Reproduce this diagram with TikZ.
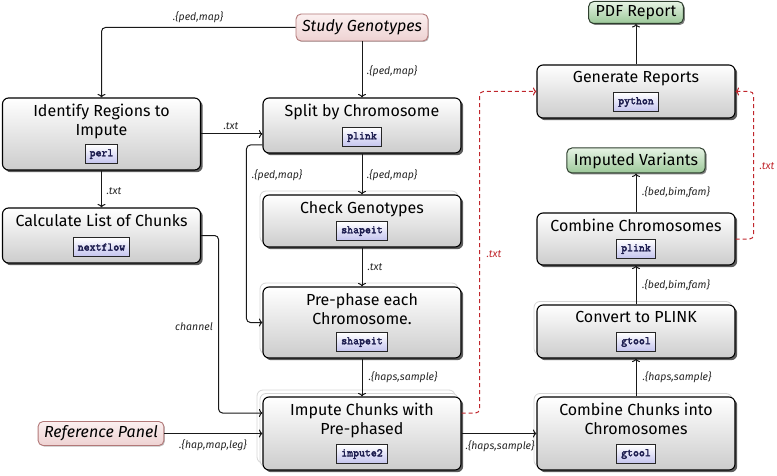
\documentclass[tikz,border=0pt]{standalone}
\usepackage{fontspec}
\setmainfont{Fira Sans}
\newfontfamily\toolfont{Latin Modern Mono}[FakeBold=3]
\usetikzlibrary{shadows,arrows.meta,calc}
\definecolor{toolbot}{HTML}{C4C4EE}
\definecolor{tooltext}{HTML}{1E1E50}
\definecolor{pinktop}{HTML}{FBF0F0}
\definecolor{pinkbot}{HTML}{EED2D2}
\definecolor{pinkline}{HTML}{B27878}
\definecolor{greentop}{HTML}{E6F3E4}
\definecolor{greenbot}{HTML}{9CC899}
\definecolor{greenline}{HTML}{2E3F2E}
\definecolor{procbot}{HTML}{CCCCCC}
\definecolor{dashred}{HTML}{C0262C}
\tikzset{
  proc/.style={draw=black, line width=1.1pt, rounded corners=6pt, top color=white, bottom color=procbot,
    drop shadow={shadow xshift=2.2pt, shadow yshift=-2.2pt, opacity=0.75, fill=black!85},
    minimum width=198pt, inner sep=0pt},
  ghost/.style={draw=black!16, line width=0.8pt, rounded corners=6pt, fill=white, minimum width=198pt, inner sep=0pt},
  tool/.style={draw=black!85, line width=0.9pt, top color=white, bottom color=toolbot,
    font=\toolfont\fontsize{11.5}{11.5}\selectfont, text=tooltext, inner xsep=4.5pt, inner ysep=0pt, minimum height=18.5pt},
  ptitle/.style={font=\fontsize{16}{19}\selectfont, align=center, inner sep=0pt},
  lbl/.style={font=\itshape\fontsize{10.5}{12}\selectfont, text=black!85, inner sep=0pt},
  rlbl/.style={lbl, text=dashred},
  iofile/.style={draw=pinkline, line width=0.9pt, rounded corners=5pt, top color=pinktop, bottom color=pinkbot,
    drop shadow={shadow xshift=1pt, shadow yshift=-1pt, opacity=0.25, fill=black},
    font=\itshape\fontsize{16}{19}\selectfont, inner xsep=6pt, inner ysep=0pt},
  ioresult/.style={draw=greenline, line width=1pt, rounded corners=5pt, top color=greentop, bottom color=greenbot,
    drop shadow={shadow xshift=1.5pt, shadow yshift=-1.5pt, opacity=0.5, fill=black},
    font=\fontsize{16}{19}\selectfont, inner xsep=7pt, inner ysep=0pt},
  conn/.style={draw=black!90, line width=1pt, -{To[length=3.5pt,width=8pt]}, rounded corners=4pt},
  rconn/.style={draw=dashred, line width=1pt, dash pattern=on 4pt off 3pt, -{To[length=3.5pt,width=8pt]}, rounded corners=4pt},
}
% name, x, y, height, title, tool
\newcommand\procbox[6]{%
  \node[proc, minimum height=#4pt] (#1) at (#2,#3) {};
  \node[ptitle, anchor=north] (#1-t) at ([yshift=-6.5pt]#1.north) {#5};
  \node[tool] (#1-tool) at ([yshift=16.5pt]#1.south) {#6};
}
% name, x, y, height
\newcommand\ghostbox[4]{%
  \node[ghost, minimum height=#4pt] (#1) at (#2,#3) {};
}
\begin{document}
\begin{tikzpicture}[x=1pt,y=-1pt]
\useasboundingbox (0,0) rectangle (777,476);

% inputs / outputs
\node[iofile, minimum height=27pt] (study) at (362,27.5) {Study Genotypes};
\node[iofile, minimum height=24pt] (ref) at (101,433.5) {Reference Panel};
\node[ioresult, minimum height=22pt] (pdf) at (636,12.5) {PDF Report};
\node[ioresult, minimum height=25pt] (imputed) at (636,160.5) {Imputed Variants};

% stacked copies
\ghostbox{check-g}{359}{217}{52}
\ghostbox{pre-g}{359}{318.5}{71}
\ghostbox{imp-g2}{356}{426.5}{73}
\ghostbox{imp-g1}{359}{430}{73}
\ghostbox{conv-g}{633}{328}{53}
\ghostbox{chunks-g}{633}{430}{73}

% processes
\procbox{ident}{101.5}{134}{72}{Identify Regions to\\Impute}{perl}
\procbox{calc}{101.5}{235.5}{55}{Calculate List of Chunks}{nextflow}
\procbox{split}{362}{125.5}{55}{Split by Chromosome}{plink}
\procbox{check}{362}{221}{52}{Check Genotypes}{shapeit}
\procbox{pre}{362}{322.5}{71}{Pre-phase each\\Chromosome.}{shapeit}
\procbox{impute}{362}{433.5}{73}{Impute Chunks with\\Pre-phased}{impute2}
\procbox{gen}{636}{91.5}{53}{Generate Reports}{python}
\procbox{combchr}{636}{239}{52}{Combine Chromosomes}{plink}
\procbox{conv}{636}{331.5}{53}{Convert to PLINK}{gtool}
\procbox{chunks}{636}{433.5}{73}{Combine Chunks into\\Chromosomes}{gtool}

% connectors
\draw[conn] (study.west) -| (ident.north);
\draw[conn] (study.south) -- (split.north);
\draw[conn] (ident.east) -- (ident.east -| split.west);
\draw[conn] (ident.south) -- (calc.north);
\draw[conn] (split.south) -- (check.north);
\draw[conn] ([yshift=-19.5pt]split.west) -- ++(-16,0) |- (pre.west);
\draw[conn] (check.south) -- (pre.north);
\draw[conn] (pre.south) -- (impute.north);
\draw[conn] (calc.east) -- ++(17.5,0) |- ([yshift=20.5pt]impute.west);
\draw[conn] (ref.east) -- (ref.east -| impute.west);
\draw[conn] (impute.east) -- (impute.east -| chunks.west);
\draw[conn] (chunks.north) -- (conv.south);
\draw[conn] (conv.north) -- (combchr.south);
\draw[conn] (combchr.north) -- (imputed.south);
\draw[conn] (gen.north) -- (pdf.south);
\draw[rconn] ([yshift=20.5pt]impute.east) -- ++(18,0) |- (gen.west);
\draw[rconn] (combchr.east) -- ++(18,0) |- (gen.east);

% labels
\node[lbl] (l1) at (198,17) {.\{ped,map\}};
\node[lbl] (l2) at (392,71) {.\{ped,map\}};
\node[lbl] (l3) at (231,126) {.txt};
\node[lbl] (l4) at (114,191) {.txt};
\node[lbl] (l5) at (392,175) {.\{ped,map\}};
\node[lbl] (l6) at (277,175) {.\{ped,map\}};
\node[lbl] (l7) at (375,267) {.txt};
\node[lbl] (l8) at (403,377) {.\{haps,sample\}};
\node[lbl] (l9) at (194,327) {channel};
\node[lbl] (l10) at (213,445) {.\{hap,map,leg\}};
\node[lbl] (l11) at (500,446) {.\{haps,sample\}};
\node[lbl] (l12) at (677,377) {.\{haps,sample\}};
\node[lbl] (l13) at (676,285) {.\{bed,bim,fam\}};
\node[lbl] (l14) at (676,192) {.\{bed,bim,fam\}};
\node[rlbl] (l15) at (494,254) {.txt};
\node[rlbl] (l16) at (767,166) {.txt};
\end{tikzpicture}
\end{document}
